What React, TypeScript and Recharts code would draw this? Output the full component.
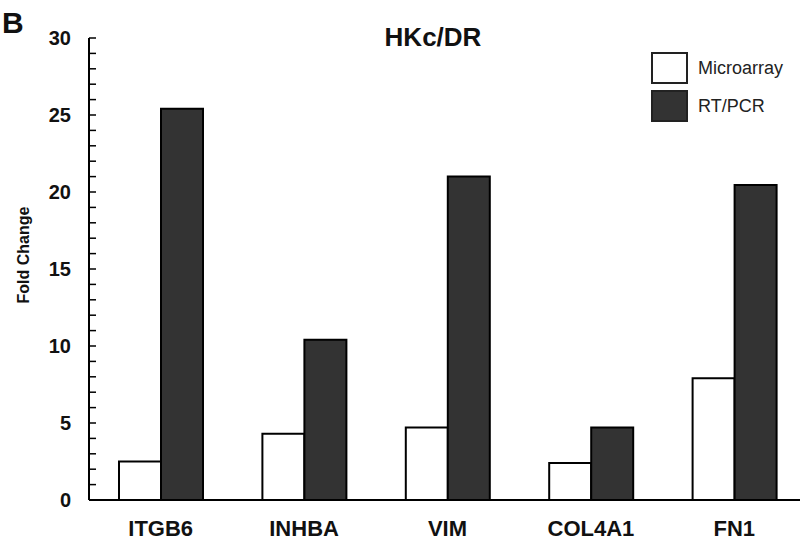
import React from "react";
import { BarChart, Bar, XAxis, YAxis } from "recharts";

const genes = ["ITGB6", "INHBA", "VIM", "COL4A1", "FN1"];
const microarray = [2.5, 4.3, 4.7, 2.4, 7.9];
const rtpcr = [25.4, 10.4, 21.0, 4.7, 20.45];
const yTicks = [0, 1, 2, 3, 4, 5, 6, 7, 8, 9, 10, 11, 12, 13, 14, 15, 16, 17, 18, 19, 20, 21, 22, 23, 24, 25, 26, 27, 28, 29, 30];
const yLabels = [0, 5, 10, 15, 20, 25, 30];
const seriesNames = ["Microarray", "RT/PCR"];

const data = genes.map((g, i) => ({ gene: g, microarray: microarray[i], rtpcr: rtpcr[i] }));

const FONT = "'Liberation Sans', Arial, sans-serif";

function YTick(props: any) {
  const { x, y, payload } = props;
  const v = payload.value;
  return (
    <g>
      <line x1={x} x2={x + 7} y1={y} y2={y} stroke="#000" strokeWidth={1.5} />
      {yLabels.includes(v) && (
        <text x={x - 18} y={y} dy="0.36em" textAnchor="end" fontFamily={FONT} fontWeight="bold" fontSize={20} fill="#111">
          {v}
        </text>
      )}
    </g>
  );
}

function XTick(props: any) {
  const { x, y, payload } = props;
  return (
    <text x={x} y={y + 36} textAnchor="middle" fontFamily={FONT} fontWeight="bold" fontSize={22} fill="#111">
      {payload.value}
    </text>
  );
}

function LegendBox() {
  const row = (fill: string, label: string) => (
    <div style={{ display: "flex", alignItems: "center", height: 38 }}>
      <div style={{ width: 33, height: 28, background: fill, border: "2px solid #222", boxSizing: "content-box" }} />
      <span style={{ marginLeft: 10, fontFamily: FONT, fontSize: 18, color: "#222" }}>{label}</span>
    </div>
  );
  return (
    <div style={{ position: "absolute", top: 49, left: 651 }}>
      {row("#fff", seriesNames[0])}
      {row("#333", seriesNames[1])}
    </div>
  );
}

export default function App() {
  return (
    <div style={{ position: "absolute", left: 0, top: 0, width: 800, height: 541, background: "#fff", overflow: "hidden" }}>
      <BarChart
        width={806}
        height={541}
        data={data}
        margin={{ top: 38, right: 0, left: 0, bottom: 0 }}
        barGap={0}
        barSize={42}
      >
        <XAxis
          dataKey="gene"
          height={41}
          tickLine={false}
          tickSize={0}
          tickMargin={0}
          axisLine={{ stroke: "#000", strokeWidth: 2 }}
          tick={<XTick />}
          interval={0}
        />
        <YAxis
          width={89}
          domain={[0, 30]}
          ticks={yTicks}
          interval={0}
          tickLine={false}
          tickSize={0}
          tickMargin={0}
          axisLine={{ stroke: "#000", strokeWidth: 2 }}
          tick={<YTick />}
        />
        <Bar dataKey="microarray" name={seriesNames[0]} fill="#fff" stroke="#000" strokeWidth={2} isAnimationActive={false} />
        <Bar dataKey="rtpcr" name={seriesNames[1]} fill="#333" stroke="#000" strokeWidth={2} isAnimationActive={false} />
      </BarChart>
      <LegendBox />
      <svg width={800} height={541} style={{ position: "absolute", left: 0, top: 0, pointerEvents: "none" }}>
        <text x={2} y={33} fontFamily={FONT} fontWeight="bold" fontSize={30} fill="#111">B</text>
        <text x={433} y={46} textAnchor="middle" fontFamily={FONT} fontWeight="bold" fontSize={26} fill="#111">HKc/DR</text>
        <text
          x={29}
          y={255}
          textAnchor="middle"
          transform="rotate(-90 29 255)"
          fontFamily={FONT}
          fontWeight="bold"
          fontSize={16}
          fill="#111"
        >
          Fold Change
        </text>
      </svg>
    </div>
  );
}
